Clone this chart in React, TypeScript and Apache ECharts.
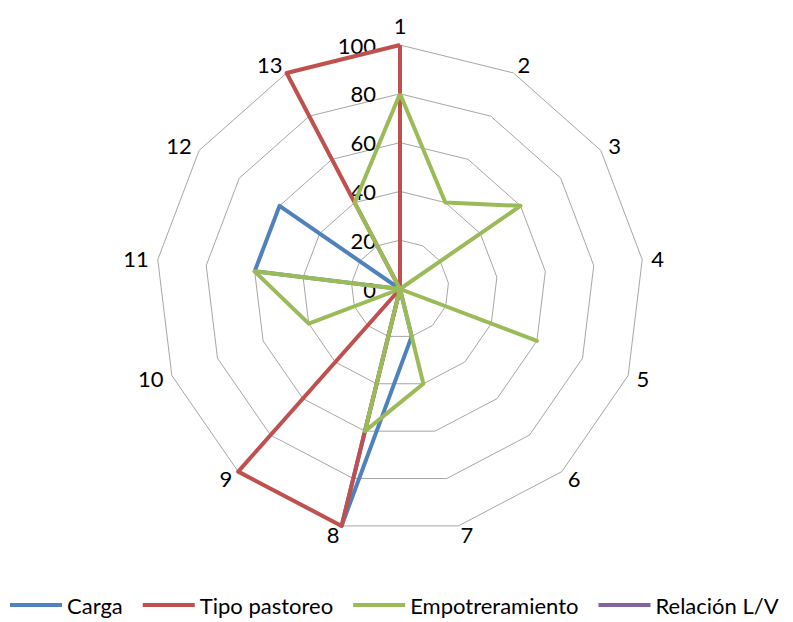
import React, { useEffect, useRef } from "react";
import * as echarts from "echarts";

const axes = ["1", "2", "3", "4", "5", "6", "7", "8", "9", "10", "11", "12", "13"];
const seriesNames = ["Carga", "Tipo pastoreo", "Empotreramiento", "Relación L/V"];
const carga = [0, 0, 0, 0, 0, 0, 20, 100, 0, 0, 60, 60, 0];
const tipoPastoreo = [100, 0, 0, 0, 0, 0, 0, 100, 100, 0, 0, 0, 100];
const empotreramiento = [80, 40, 60, 0, 60, 0, 40, 60, 0, 40, 60, 0, 40];
const relacionLV = [0, 0, 0, 0, 0, 0, 0, 0, 0, 0, 0, 0, 0];
const colors = ["#4F81BD", "#C0504D", "#9BBB59", "#8064A2"];

// ECharts places indicators counter-clockwise; reorder so they run clockwise.
const order = [0, ...Array.from({ length: axes.length - 1 }, (_, i) => axes.length - 1 - i)];
const reorder = (arr: number[]) => order.map((i) => arr[i]);

const FONT = "Lato, 'Open Sans', sans-serif";

export default function App() {
  const ref = useRef<HTMLDivElement>(null);
  useEffect(() => {
    if (!ref.current) return;
    const chart = echarts.init(ref.current, undefined, { renderer: "svg" });
    const allData = [carga, tipoPastoreo, empotreramiento, relacionLV];
    chart.setOption({
      animation: false,
      backgroundColor: "#fff",
      color: colors,
      textStyle: { fontFamily: FONT },
      legend: {
        data: seriesNames,
        left: 10,
        top: 594,
        padding: 0,
        icon: "rect",
        itemWidth: 52,
        itemHeight: 4,
        itemGap: 20,
        textStyle: { fontSize: 22, color: "#000", fontFamily: FONT },
      },
      radar: {
        center: [400, 289],
        radius: 244,
        startAngle: 90,
        shape: "polygon",
        splitNumber: 5,
        nameGap: 9,
        axisName: { color: "#000", fontSize: 22, fontFamily: FONT },
        indicator: order.map((i) =>
          i === 0
            ? { name: axes[i], min: 0, max: 100, axisLabel: { show: true } }
            : { name: axes[i], min: 0, max: 100 }
        ),
        axisLine: { show: false },
        axisTick: { show: false },
        axisLabel: {
          show: false,
          color: "#000",
          fontSize: 22,
          fontFamily: FONT,
          margin: 24,
        },
        splitLine: { lineStyle: { color: "#a6a6a6", width: 1 } },
        splitArea: { show: false },
      },
      series: [
        {
          type: "radar",
          symbol: "none",
          data: allData.map((d, k) => ({
            name: seriesNames[k],
            value: reorder(d),
            lineStyle: { width: 4, color: colors[k] },
            itemStyle: { color: colors[k] },
          })),
        },
      ],
    });
    return () => chart.dispose();
  }, []);
  return (
    <div
      ref={ref}
      style={{ position: "absolute", left: 0, top: 0, width: 793, height: 622 }}
    />
  );
}
